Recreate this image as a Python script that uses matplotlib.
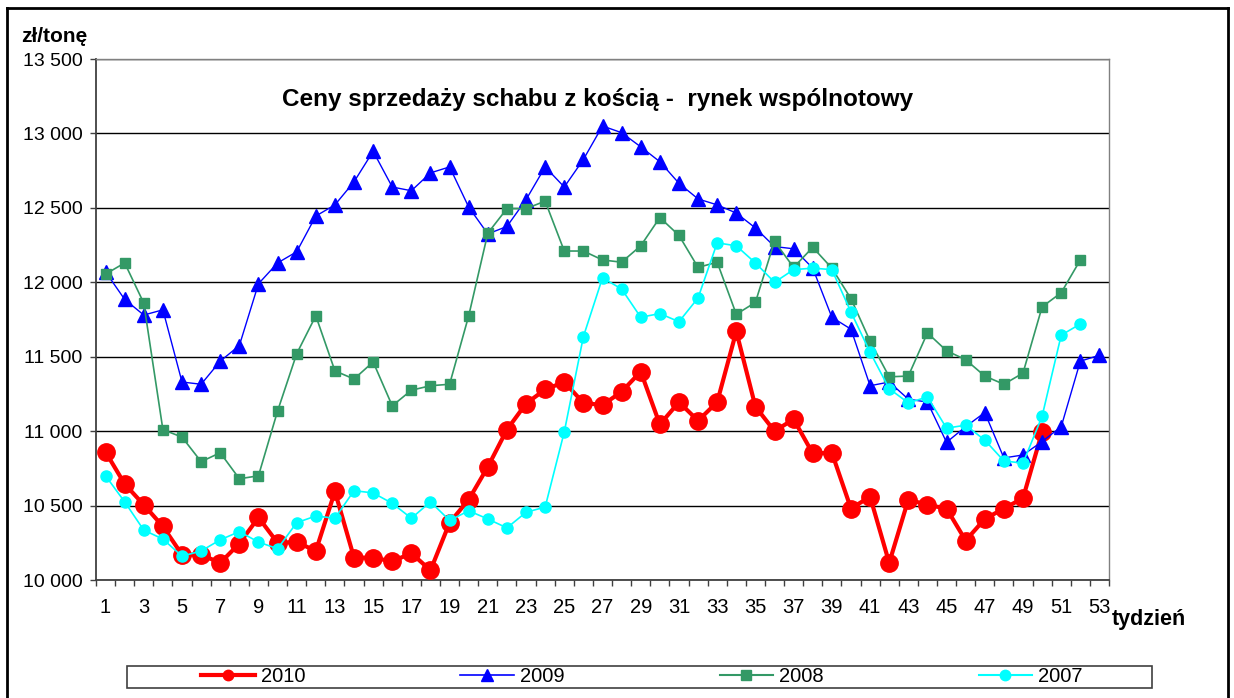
import matplotlib
matplotlib.use("Agg")
import matplotlib.pyplot as plt
from matplotlib.lines import Line2D
from matplotlib.patches import Rectangle
from matplotlib.ticker import FuncFormatter, FixedLocator

plt.rcParams['font.family'] = ['Liberation Sans', 'DejaVu Sans']

title = "Ceny sprzedaży schabu z kością -  rynek wspólnotowy"
y_label = "zł/tonę"
x_label = "tydzień"
series_names = ["2010", "2009", "2008", "2007"]

y2010 = [10860, 10645, 10505, 10360, 10170, 10170, 10115, 10245, 10420, 10250,
         10255, 10195, 10595, 10150, 10150, 10125, 10180, 10065, 10385, 10540,
         10760, 11010, 11185, 11280, 11330, 11190, 11175, 11265, 11400, 11045,
         11195, 11070, 11195, 11670, 11165, 11000, 11080, 10850, 10855, 10480,
         10560, 10115, 10540, 10505, 10480, 10265, 10410, 10480, 10550, 10995]
y2009 = [12070, 11885, 11780, 11815, 11330, 11315, 11470, 11575, 11990, 12130,
         12205, 12445, 12520, 12675, 12880, 12640, 12615, 12735, 12775, 12505,
         12325, 12375, 12555, 12775, 12640, 12825, 13050, 13005, 12910, 12810,
         12665, 12560, 12520, 12465, 12365, 12240, 12225, 12095, 11765, 11685,
         11305, 11330, 11215, 11195, 10925, 11030, 11125, 10820, 10840, 10930,
         11030, 11470, 11510]
y2008 = [12055, 12130, 11860, 11010, 10960, 10795, 10855, 10680, 10700, 11135,
         11520, 11775, 11405, 11350, 11465, 11170, 11275, 11305, 11315, 11775,
         12330, 12495, 12495, 12545, 12210, 12210, 12150, 12135, 12245, 12435,
         12315, 12100, 12135, 11785, 11865, 12275, 12100, 12235, 12095, 11890,
         11605, 11365, 11370, 11660, 11540, 11480, 11370, 11315, 11390, 11835,
         11930, 12150]
y2007 = [10700, 10525, 10335, 10275, 10160, 10195, 10270, 10325, 10255, 10210,
         10385, 10430, 10415, 10600, 10585, 10515, 10415, 10525, 10400, 10465,
         10410, 10350, 10455, 10490, 10995, 11635, 12030, 11955, 11765, 11790,
         11735, 11895, 12265, 12245, 12130, 12000, 12085, 12095, 12085, 11800,
         11530, 11285, 11190, 11230, 11020, 11040, 10940, 10800, 10785, 11100,
         11645, 11720]

W, H = 1234, 698
fig = plt.figure(figsize=(W / 100, H / 100), dpi=100)
ax = fig.add_axes([96 / W, 1 - 580 / H, 1013 / W, 521 / H])

def weeks(n):
    return list(range(1, n + 1))

ax.plot(weeks(len(y2010)), y2010, color='#FF0000', lw=3.0, marker='o',
        ms=12.5, mec='#FF0000', mfc='#FF0000', zorder=3)
ax.plot(weeks(len(y2009)), y2009, color='#0000FF', lw=1.0, marker='^',
        ms=10, mec='#0000FF', mfc='#0000FF', zorder=3)
ax.plot(weeks(len(y2008)), y2008, color='#339966', lw=1.2, marker='s',
        ms=7.5, mec='#339966', mfc='#339966', zorder=3)
ax.plot(weeks(len(y2007)), y2007, color='#00FFFF', lw=1.2, marker='o',
        ms=8, mec='#00FFFF', mfc='#00FFFF', zorder=3)

ax.set_xlim(0.5, 53.5)
ax.set_ylim(10000, 13500)
ax.set_yticks(range(10000, 13501, 500))
ax.yaxis.set_major_formatter(FuncFormatter(lambda v, p: f"{int(v):,}".replace(",", " ")))
ax.grid(axis='y', color='#000000', lw=1.0, zorder=1)
ax.set_axisbelow(True)

# x: tick marks at category boundaries, labels at odd week centers
ax.xaxis.set_major_locator(FixedLocator([i + 0.5 for i in range(0, 54)]))
ax.xaxis.set_major_formatter(FuncFormatter(lambda v, p: ""))
ax.xaxis.set_minor_locator(FixedLocator(list(range(1, 54, 2))))
ax.xaxis.set_minor_formatter(FuncFormatter(lambda v, p: f"{int(round(v))}"))
ax.tick_params(axis='x', which='major', direction='out', length=4.3, width=1, color='#404040')
ax.tick_params(axis='x', which='minor', length=0, pad=13, labelsize=14.5)
ax.tick_params(axis='y', direction='out', length=4.3, width=1, color='#404040', pad=5.5, labelsize=14)

for s in ['top', 'right']:
    ax.spines[s].set_color('#808080')
    ax.spines[s].set_linewidth(1.0)
for s in ['left', 'bottom']:
    ax.spines[s].set_color('#404040')
    ax.spines[s].set_linewidth(1.3)

fig.text(598 / W, 1 - 106 / H, title, ha='center', va='baseline',
         fontsize=17.5, fontweight='bold')
fig.text(21 / W, 1 - 42 / H, y_label, ha='left', va='baseline',
         fontsize=15, fontweight='bold')
fig.text(1112 / W, 1 - 625 / H, x_label, ha='left', va='baseline',
         fontsize=15.5, fontweight='bold')

# legend
handles = [
    Line2D([], [], color='#FF0000', lw=3.0, marker='o', ms=7.5),
    Line2D([], [], color='#0000FF', lw=1.2, marker='^', ms=9),
    Line2D([], [], color='#339966', lw=1.5, marker='s', ms=7.5),
    Line2D([], [], color='#00FFFF', lw=1.5, marker='o', ms=7.5),
]
fig.legend(handles, series_names, loc='center', bbox_to_anchor=(642 / W, 1 - 677 / H),
           ncol=4, frameon=False, fontsize=14.5, handlelength=2.65,
           handletextpad=0.3, columnspacing=7.7, borderpad=0.0)
fig.add_artist(Rectangle((127 / W, 1 - 688 / H), 1025 / W, 22 / H,
                         transform=fig.transFigure, fill=False,
                         edgecolor='#404040', lw=1.2))

# outer frame
for xs, ys in [([7 / W, 7 / W], [0, 1 - 8 / H]),
               ([7 / W, 1228 / W], [1 - 8 / H, 1 - 8 / H]),
               ([1228 / W, 1228 / W], [0, 1 - 8 / H])]:
    fig.add_artist(Line2D(xs, ys, transform=fig.transFigure, color='black', lw=2.0))

fig.savefig("out.png", dpi=100)
